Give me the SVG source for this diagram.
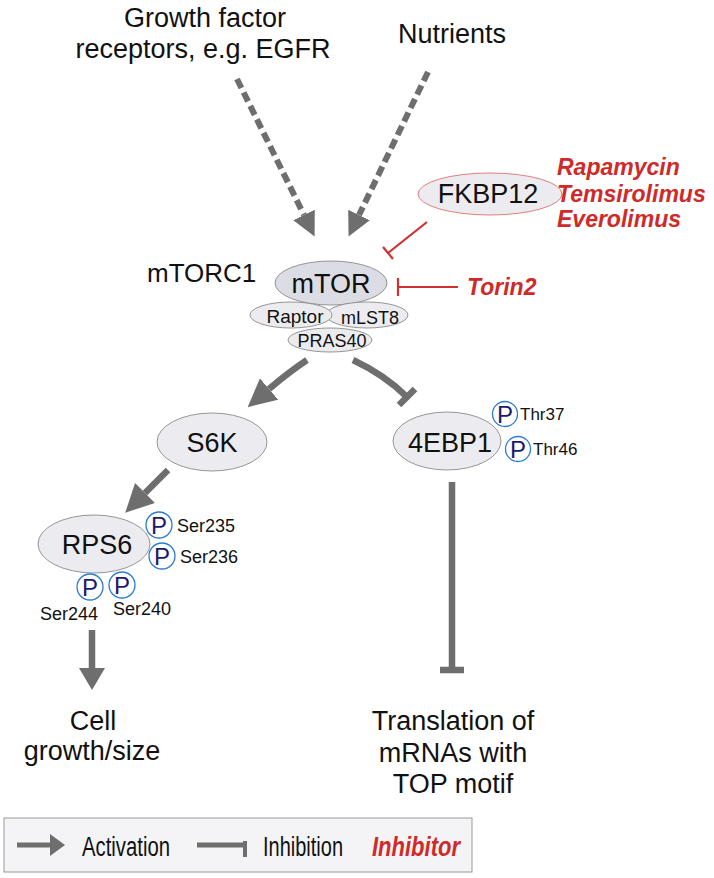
<svg xmlns="http://www.w3.org/2000/svg" width="714" height="878" viewBox="0 0 714 878">
<style>
text{font-family:"Liberation Sans",Arial,sans-serif;fill:#111}
.lg{font-size:27px}
.md{font-size:26px}
.sm{font-size:19px}
.xs{font-size:18px}
.red{fill:#cf2a2a;font-weight:bold;font-style:italic;font-size:23px}
.node{fill:#ececf0;stroke:#8a8a8a;stroke-width:0.9}
.core{fill:#dcdde4;stroke:#8a8a8a;stroke-width:0.9}
.pc{fill:#fff;stroke:#2b7bd0;stroke-width:1.3}
.pt{fill:#1c1a6e;font-size:24px}
.gl{stroke:#6e6e6e;fill:none;stroke-width:6.5}
.dash{stroke:#6e6e6e;fill:none;stroke-width:6;stroke-dasharray:10 5}
.rl{stroke:#d03030;stroke-width:2.2;fill:none}
</style>
<defs>
<marker id="ah" viewBox="0 0 10 10" refX="0" refY="5" markerWidth="24" markerHeight="24" markerUnits="userSpaceOnUse" orient="auto">
<path d="M0,0 L10,5 L0,10 z" fill="#6e6e6e"/>
</marker>
<marker id="ahb" viewBox="0 0 10 10" refX="0" refY="5" markerWidth="28" markerHeight="28" markerUnits="userSpaceOnUse" orient="auto">
<path d="M0,0 L10,5 L0,10 z" fill="#6e6e6e"/>
</marker>
</defs>

<g id="inputs">
<text class="lg" x="205" y="27" text-anchor="middle">Growth factor</text>
<text class="lg" x="203" y="58" text-anchor="middle">receptors, e.g. EGFR</text>
<text class="lg" x="452" y="43" text-anchor="middle">Nutrients</text>
</g>

<g id="connectors">
<path class="dash" d="M237,79 L304,215" marker-end="url(#ah)"/>
<path class="dash" d="M428,72 L359,215" marker-end="url(#ah)"/>
<path class="gl" d="M307,360 Q289,372 269,389" marker-end="url(#ahb)"/>
<path class="gl" d="M353,360 Q385,375 407,397"/>
<path class="gl" d="M399,405 L415,389"/>
<path class="gl" d="M168,470 L145,493" marker-end="url(#ahb)"/>
<path class="gl" d="M92,630 L92,668"/>
<path d="M79,668 L105,668 L92,690 z" fill="#6e6e6e"/>
<path class="gl" d="M452,482 L452,670"/>
<path class="gl" d="M440,670 L464,670"/>
<path class="rl" d="M427,222 L388,253 M383,247 L393,259"/>
<path class="rl" d="M458,287 L398,287 M398,278 L398,296"/>
</g>

<g id="fkbp12">
<ellipse cx="490" cy="194" rx="72" ry="21" fill="#ececf0" stroke="#e07070" stroke-width="0.9"/>
<text class="lg" x="488" y="203" text-anchor="middle">FKBP12</text>
</g>

<g id="inhibitors">
<text class="red" x="557" y="175">Rapamycin</text>
<text class="red" x="557" y="202">Temsirolimus</text>
<text class="red" x="557" y="227">Everolimus</text>
<text class="red" x="467" y="295">Torin2</text>
</g>

<g id="mtorc1">
<text class="md" x="147" y="282">mTORC1</text>
<ellipse class="core" cx="331" cy="283" rx="56" ry="22"/>
<text class="lg" x="331" y="293" text-anchor="middle">mTOR</text>
<ellipse class="node" cx="367" cy="315" rx="41" ry="13"/>
<text class="xs" x="370" y="324" text-anchor="middle">mLST8</text>
<ellipse class="node" cx="291" cy="315" rx="41" ry="13"/>
<text class="sm" x="295" y="323" text-anchor="middle">Raptor</text>
<ellipse class="node" cx="330" cy="340" rx="42" ry="12"/>
<text class="xs" x="332" y="347" text-anchor="middle">PRAS40</text>
</g>

<g id="s6k">
<ellipse class="node" cx="212" cy="442" rx="55" ry="29"/>
<text class="lg" x="212" y="452" text-anchor="middle">S6K</text>
</g>

<g id="4ebp1">
<ellipse class="node" cx="447" cy="441" rx="54" ry="29"/>
<text class="lg" x="450" y="452" text-anchor="middle">4EBP1</text>
<circle class="pc" cx="505" cy="414" r="12.5"/>
<text class="pt" x="505" y="423" text-anchor="middle">P</text>
<text class="xs" x="520" y="420" style="font-size:17px">Thr37</text>
<circle class="pc" cx="518" cy="449" r="12.5"/>
<text class="pt" x="518" y="458" text-anchor="middle">P</text>
<text class="xs" x="533" y="455" style="font-size:17px">Thr46</text>
</g>

<g id="rps6">
<ellipse class="node" cx="94" cy="544" rx="56" ry="29"/>
<text class="lg" x="97" y="554" text-anchor="middle">RPS6</text>
<circle class="pc" cx="159" cy="525" r="13"/>
<text class="pt" x="159" y="534" text-anchor="middle">P</text>
<text class="xs" x="177" y="532">Ser235</text>
<circle class="pc" cx="162" cy="556" r="13"/>
<text class="pt" x="162" y="565" text-anchor="middle">P</text>
<text class="xs" x="180" y="563">Ser236</text>
<circle class="pc" cx="90" cy="587" r="13"/>
<text class="pt" x="90" y="596" text-anchor="middle">P</text>
<circle class="pc" cx="122" cy="585" r="13"/>
<text class="pt" x="122" y="594" text-anchor="middle">P</text>
<text class="xs" x="40" y="620">Ser244</text>
<text class="xs" x="113" y="615">Ser240</text>
</g>

<g id="cell-growth">
<text class="lg" x="93" y="730" text-anchor="middle">Cell</text>
<text class="lg" x="92" y="760" text-anchor="middle">growth/size</text>
</g>

<g id="translation">
<text class="lg" x="453" y="730" text-anchor="middle">Translation of</text>
<text class="lg" x="453" y="762" text-anchor="middle">mRNAs with</text>
<text class="lg" x="453" y="793" text-anchor="middle">TOP motif</text>
</g>

<g id="legend">
<rect x="4" y="818" width="468" height="54" fill="#f4f4f6" stroke="#9a9a9a" stroke-width="1"/>
<path class="gl" d="M17,845 L50,845" style="stroke-width:5"/>
<path d="M50,834 L65,845 L50,856 z" fill="#6e6e6e"/>
<text x="82" y="856" style="font-size:27px" textLength="88" lengthAdjust="spacingAndGlyphs">Activation</text>
<path class="gl" d="M197,845 L245,845" style="stroke-width:5"/>
<path class="gl" d="M245,841 L245,857" style="stroke-width:4"/>
<text x="263" y="856" style="font-size:27px" textLength="80" lengthAdjust="spacingAndGlyphs">Inhibition</text>
<text class="red" x="372" y="856" style="font-size:27px" textLength="88" lengthAdjust="spacingAndGlyphs">Inhibitor</text>
</g>
</svg>
